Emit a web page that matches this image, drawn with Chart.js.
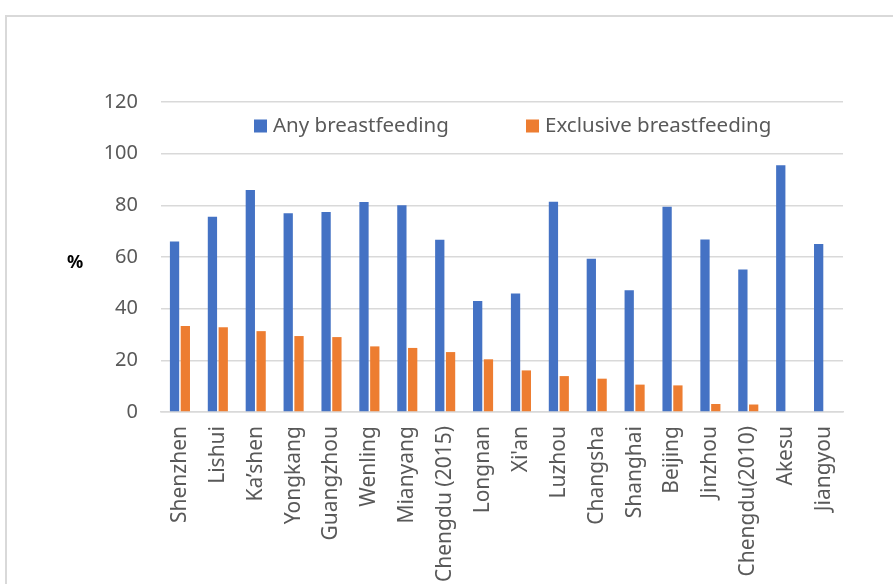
<!DOCTYPE html>
<html>
<head>
<meta charset="utf-8">
<script src="https://cdn.jsdelivr.net/npm/chart.js@4"></script>
<style>
  html, body { margin: 0; padding: 0; background: #fff; overflow: hidden; }
  #frame { position: absolute; left: 5px; top: 15px; width: 1000px; height: 1000px;
           border-left: 2px solid #d9d9d9; border-top: 2px solid #d9d9d9; }
  #wrap { position: absolute; left: 0; top: 0; width: 893px; height: 584px; }
</style>
</head>
<body>
<div id="frame"></div>
<div id="wrap"><canvas id="c" width="893" height="584"></canvas></div>
<script>
// Breastfeeding rates by study site (%)
const sites = ["Shenzhen", "Lishui", "Ka\u2019shen", "Yongkang", "Guangzhou", "Wenling", "Mianyang",
               "Chengdu (2015)", "Longnan", "Xi'an", "Luzhou", "Changsha", "Shanghai", "Beijing",
               "Jinzhou", "Chengdu(2010)", "Akesu", "Jiangyou"];
const anyBreastfeeding = [66.0, 75.6, 85.9, 76.9, 77.4, 81.3, 80.0, 66.7, 43.0, 45.9,
                          81.4, 59.3, 47.1, 79.5, 66.8, 55.2, 95.5, 65.0];
const exclusiveBreastfeeding = [33.3, 32.8, 31.3, 29.4, 29.0, 25.4, 24.8, 23.2, 20.4, 16.1,
                                13.9, 12.9, 10.6, 10.3, 3.1, 2.9, 0.3, 0];
const seriesNames = ["Any breastfeeding", "Exclusive breastfeeding"];
const yTickValues = [0, 20, 40, 60, 80, 100, 120];

const FONT = "'Noto Sans', 'Open Sans', sans-serif";
const TEXT = "#595959";
const GRID = "#d9d9d9";

// Legend drawn over the top band of the plot area
const overlayLegend = {
  id: "overlayLegend",
  afterDraw(chart) {
    const { ctx, chartArea } = chart;
    const starts = [chartArea.left + 93, chartArea.left + 365];
    const y = chartArea.top + 24;
    ctx.save();
    ctx.font = "20.5px " + FONT;
    ctx.textBaseline = "middle";
    ctx.textAlign = "left";
    chart.data.datasets.forEach((ds, i) => {
      const x = starts[i];
      ctx.fillStyle = ds.backgroundColor;
      ctx.fillRect(x, y - 6.5, 13, 13);
      ctx.fillStyle = TEXT;
      ctx.fillText(ds.label, x + 19, y);
    });
    ctx.restore();
  }
};

// Horizontal "%" caption beside the value axis
const percentCaption = {
  id: "percentCaption",
  afterDraw(chart) {
    const { ctx, chartArea } = chart;
    ctx.save();
    ctx.font = "bold 18px " + FONT;
    ctx.fillStyle = "#000";
    ctx.textAlign = "center";
    ctx.textBaseline = "middle";
    ctx.fillText("%", 75, (chartArea.top + chartArea.bottom) / 2 + 6);
    ctx.restore();
  }
};

new Chart(document.getElementById("c"), {
  type: "bar",
  data: {
    labels: sites,
    datasets: [
      { label: seriesNames[0], data: anyBreastfeeding, backgroundColor: "#4472c4" },
      { label: seriesNames[1], data: exclusiveBreastfeeding, backgroundColor: "#ed7d31" }
    ]
  },
  options: {
    responsive: false,
    animation: false,
    devicePixelRatio: 1,
    categoryPercentage: 0.57,
    barPercentage: 0.86,
    layout: { padding: { left: 0, top: 102, right: 50, bottom: 0 } },
    plugins: { legend: { display: false }, tooltip: { enabled: false } },
    scales: {
      x: {
        grid: { display: false, drawTicks: false },
        border: { display: true, color: GRID, width: 1.5, z: -1 },
        ticks: {
          color: TEXT, font: { family: FONT, size: 21 },
          minRotation: 90, maxRotation: 90, padding: 14, autoSkip: false
        },
        afterFit(scale) { scale.height = 172; }
      },
      y: {
        min: 0, max: 120,
        afterBuildTicks(scale) { scale.ticks = yTickValues.map(v => ({ value: v })); },
        grid: { color: GRID, lineWidth: 1.5, drawTicks: false, z: -1 },
        border: { display: false },
        ticks: { color: TEXT, font: { family: FONT, size: 20 }, padding: 23 },
        afterFit(scale) { scale.width = 161; }
      }
    }
  },
  plugins: [overlayLegend, percentCaption]
});
</script>
</body>
</html>
